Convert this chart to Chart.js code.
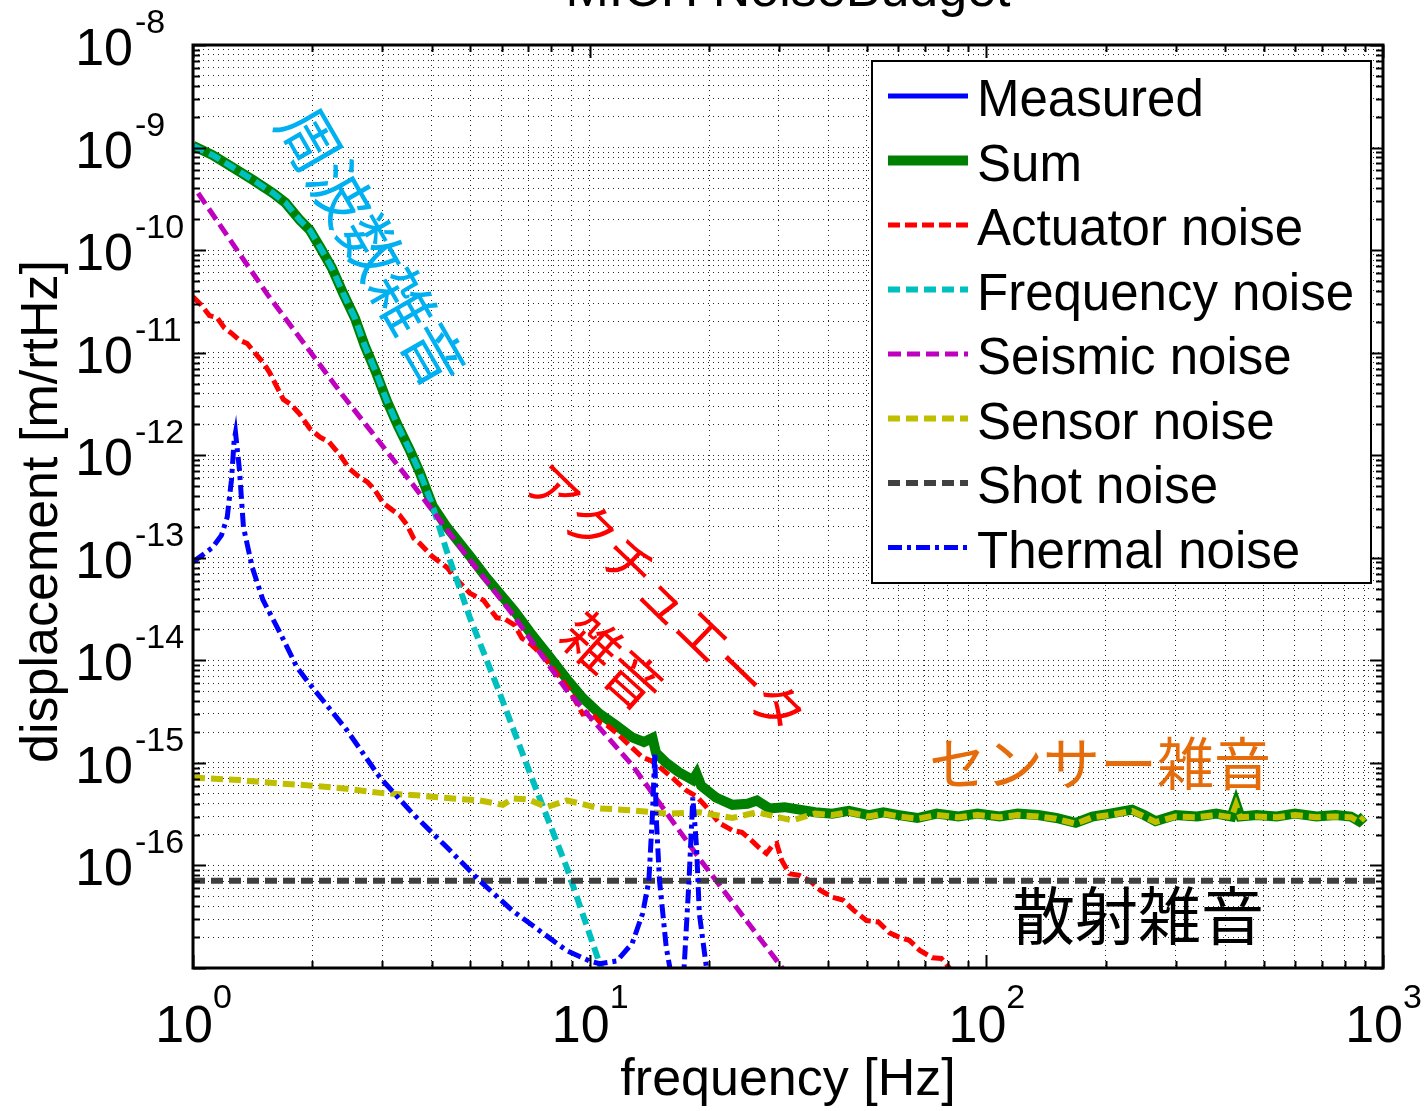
<!DOCTYPE html>
<html>
<head>
<meta charset="utf-8">
<script src="https://cdn.jsdelivr.net/npm/chart.js@4.4.1/dist/chart.umd.min.js"></script>
<style>
  html, body { margin: 0; padding: 0; background: #fff; }
  #wrap { position: relative; width: 1425px; height: 1111px; }
</style>
</head>
<body>
<div id="wrap"><canvas id="noiseChart"></canvas></div>
<script>
// tick labels (10^exp)
const xTickValues = [1, 10, 100, 1000];
const xTickExps = ['0', '1', '2', '3'];
const yTickValues = [1e-8, 1e-9, 1e-10, 1e-11, 1e-12, 1e-13, 1e-14, 1e-15, 1e-16];
const yTickExps = ['-8', '-9', '-10', '-11', '-12', '-13', '-14', '-15', '-16'];

// Measured (not visible in the plot)
const measuredF = [];
const measuredV = [];

// Sum
const sumF = [1, 1.12, 1.26, 1.42, 1.59, 1.71, 1.86, 1.97, 2.09, 2.24, 2.39, 2.56, 2.71, 2.89, 3.08, 3.28, 3.52, 3.73, 4.02, 4.36,
  4.99, 5.44, 5.93, 6.47, 7.06, 7.84, 8.75, 9.6, 10.6, 11.7, 12.8, 13.7, 14.4, 14.7, 15.6, 16.8, 18.2, 18.6, 19.1, 20.8,
  22.9, 25, 26.4, 28.4, 31, 33.8, 37, 40.9, 45, 50.6, 55, 60.2, 67, 75, 85, 95, 108, 120, 135, 150,
  168, 185, 205, 233, 250, 267, 300, 340, 380, 415, 426, 437, 480, 540, 600, 680, 760, 830, 870, 896];
const sumV = [1.04e-9, 8.45e-10, 6.4e-10, 4.8e-10, 3.6e-10, 2.9e-10, 1.96e-10, 1.57e-10, 1.07e-10, 6.7e-11, 3.8e-11, 2.17e-11, 1.17e-11, 6.5e-12, 3.4e-12, 1.96e-12, 1.12e-12, 6.8e-13, 3.2e-13, 2.0e-13,
  1.04e-13, 6.7e-14, 4.5e-14, 3.0e-14, 1.9e-14, 1.14e-14, 6.6e-15, 4.3e-15, 3.0e-15, 2.3e-15, 1.77e-15, 1.6e-15, 1.75e-15, 1.25e-15, 1.0e-15, 8.1e-16, 6.8e-16, 7.8e-16, 6.0e-16, 4.6e-16,
  3.9e-16, 4.0e-16, 4.3e-16, 3.6e-16, 3.7e-16, 3.5e-16, 3.3e-16, 3.2e-16, 3.4e-16, 3.1e-16, 3.3e-16, 3.1e-16, 2.9e-16, 3.2e-16, 3.0e-16, 3.2e-16, 3.0e-16, 3.2e-16, 3.1e-16, 2.9e-16,
  2.6e-16, 3.0e-16, 3.2e-16, 3.5e-16, 3.1e-16, 2.7e-16, 3.1e-16, 3.0e-16, 3.2e-16, 3.0e-16, 4.0e-16, 3.0e-16, 3.1e-16, 3.0e-16, 3.2e-16, 3.0e-16, 3.1e-16, 3.0e-16, 2.7e-16, 3.0e-16];

// Actuator noise
const actF = [1, 1.05, 1.1, 1.15, 1.2, 1.25, 1.31, 1.37, 1.43, 1.5, 1.56, 1.62, 1.69, 1.77, 1.86, 1.97, 2.09, 2.2, 2.35, 2.48,
  2.63, 2.75, 2.87, 3.02, 3.19, 3.32, 3.46, 3.6, 3.73, 4.0, 4.36, 4.65, 4.99, 5.4, 5.83, 6.1, 6.47, 6.75, 7.06, 7.6,
  8.25, 8.9, 9.6, 10.1, 10.6, 11.1, 11.7, 12.6, 13.6, 14.3, 15.0, 16.2, 17.5, 18.6, 19.7, 21.2, 22.9, 24.2, 25.4, 26.8,
  27.9, 29.0, 29.6, 30.5, 31.9, 33.8, 35.9, 38.2, 40.9, 43.5, 46.5, 49.9, 53.5, 57, 60.2, 64, 68, 73.1, 77, 80.7, 85];
const actV = [3.5e-11, 2.9e-11, 2.3e-11, 2.2e-11, 1.74e-11, 1.55e-11, 1.32e-11, 1.23e-11, 1.0e-11, 8.1e-12, 6.4e-12, 4.8e-12, 3.5e-12, 3.1e-12, 2.5e-12, 1.82e-12, 1.5e-12, 1.35e-12, 1.0e-12, 7.4e-13,
  6.1e-13, 5.5e-13, 4.6e-13, 3.4e-13, 2.9e-13, 2.6e-13, 2.1e-13, 1.55e-13, 1.38e-13, 1.04e-13, 8.1e-14, 6.0e-14, 4.5e-14, 3.85e-14, 2.6e-14, 2.55e-14, 2.2e-14, 1.64e-14, 1.47e-14, 1.12e-14,
  7.5e-15, 5.1e-15, 3.0e-15, 3.1e-15, 2.5e-15, 2.3e-15, 1.95e-15, 1.48e-15, 1.13e-15, 1.05e-15, 9.1e-16, 7.1e-16, 5.4e-16, 4.7e-16, 3.7e-16, 2.6e-16, 2.2e-16, 2.1e-16, 1.8e-16, 1.48e-16,
  1.31e-16, 1.6e-16, 1.64e-16, 1.12e-16, 8.3e-17, 8.0e-17, 7.1e-17, 5.7e-17, 4.9e-17, 4.6e-17, 3.6e-17, 2.9e-17, 2.8e-17, 2.2e-17, 2.0e-17, 1.86e-17, 1.48e-17, 1.26e-17, 1.24e-17, 1.0e-17, 7.6e-18];

// Frequency noise
const freqF = [1, 1.12, 1.26, 1.42, 1.59, 1.71, 1.86, 1.97, 2.09, 2.24, 2.39, 2.56, 2.71, 2.89, 3.08, 3.28, 3.52, 3.73, 4.02, 4.36,
  4.99, 5.93, 7.18, 8.75, 10.6, 11.9];
const freqV = [1.04e-9, 8.45e-10, 6.4e-10, 4.8e-10, 3.6e-10, 2.9e-10, 1.96e-10, 1.57e-10, 1.07e-10, 6.7e-11, 3.8e-11, 2.17e-11, 1.17e-11, 6.5e-12, 3.4e-12, 1.96e-12, 1.12e-12, 6.8e-13, 3.2e-13, 1.17e-13,
  2.6e-14, 4.8e-15, 6.8e-16, 9.6e-17, 1.1e-17, 3.1e-18];

// Seismic noise
const seisF = [1.03, 1.54, 2.39, 3.58, 4.99, 6.4, 8.75, 12.8, 18.9, 27.9, 30.6, 33.8];
const seisV = [3.6e-10, 3.7e-11, 3.8e-12, 5.2e-13, 9.5e-14, 2.8e-14, 5.1e-15, 9.5e-16, 1.17e-16, 1.6e-17, 1.0e-17, 6e-18];

// Sensor noise
const sensF = [1, 1.31, 1.66, 2.0, 2.44, 2.96, 3.73, 4.52, 5.28, 6.04, 6.4, 7.0, 7.8, 8.75, 9.5, 10.6, 12.8, 15.6, 18.9, 22.9,
  26.4, 32.4, 37, 40.9, 45, 50.6, 55, 60.2, 67, 75, 85, 95, 108, 120, 135, 150, 168, 185, 205, 233,
  250, 267, 300, 340, 380, 415, 426, 437, 480, 540, 600, 680, 760, 830, 870, 896];
const sensV = [7.2e-16, 6.8e-16, 6.3e-16, 6.0e-16, 5.6e-16, 5.1e-16, 4.8e-16, 4.5e-16, 4.3e-16, 3.9e-16, 4.5e-16, 4.4e-16, 3.7e-16, 4.3e-16, 4.0e-16, 3.6e-16, 3.45e-16, 3.2e-16, 3.3e-16, 2.9e-16,
  3.3e-16, 2.75e-16, 3.2e-16, 3.1e-16, 3.3e-16, 3.0e-16, 3.2e-16, 3.0e-16, 2.85e-16, 3.1e-16, 2.95e-16, 3.1e-16, 2.95e-16, 3.1e-16, 3.0e-16, 2.85e-16, 2.55e-16, 2.95e-16, 3.1e-16, 3.4e-16,
  3.0e-16, 2.65e-16, 3.0e-16, 2.95e-16, 3.1e-16, 2.95e-16, 3.9e-16, 2.95e-16, 3.0e-16, 2.95e-16, 3.1e-16, 2.95e-16, 3.0e-16, 2.95e-16, 2.65e-16, 2.95e-16];

// Shot noise
const shotF = [1, 1000];
const shotV = [7.1e-17, 7.1e-17];

// Thermal noise
const thermF = [1, 1.12, 1.18, 1.22, 1.25, 1.27, 1.28, 1.31, 1.34, 1.41, 1.5, 1.66, 1.83, 1.94, 2.44, 2.96, 3.58, 4.36, 5.28, 6.4,
  7.49, 8.75, 10.0, 10.6, 11.7, 12.8, 13.6, 14.1, 14.4, 14.6, 14.7, 15.0, 15.6, 16.1, 16.8, 17.3, 17.8, 18.2, 18.6, 18.9,
  19.7, 20.6];
const thermV = [9.1e-14, 1.26e-13, 1.66e-13, 2.5e-13, 5.7e-13, 1.4e-12, 1.66e-12, 7.1e-13, 2.0e-13, 8.1e-14, 3.9e-14, 1.83e-14, 8.5e-15, 6.3e-15, 2.1e-15, 7.2e-16, 3.2e-16, 1.51e-16, 7.1e-17, 3.6e-17,
  2.3e-17, 1.48e-17, 1.17e-17, 1.1e-17, 1.17e-17, 1.74e-17, 3.4e-17, 7.1e-17, 3.2e-16, 1.26e-15, 3.2e-16, 7.1e-17, 1.58e-17, 8e-18, 4.8e-18, 1.0e-17, 7.1e-17, 4.6e-16, 1.5e-16, 3.4e-17,
  1.0e-17, 4e-18];

const FONT = '"Liberation Sans", Arial, Helvetica, sans-serif';
const CJK = '"Noto Sans CJK JP", "Noto Sans CJK SC", sans-serif';

function pts(fs, vs) {
  return fs.map((f, i) => ({ x: f, y: vs[i] }));
}

function decadeTicks(lo, hi) {
  const out = [];
  for (let e = lo; e < hi; e++) {
    for (let m = 1; m <= 9; m++) out.push(Number((m * Math.pow(10, e)).toPrecision(3)));
  }
  out.push(Math.pow(10, hi));
  return out;
}

function isMajor(v) {
  const l = Math.log10(v);
  return Math.abs(l - Math.round(l)) < 1e-6;
}

const series = [
  { label: 'Measured', f: measuredF, v: measuredV, color: '#0000ff', width: 5, dash: [] },
  { label: 'Sum', f: sumF, v: sumV, color: '#008000', width: 10, dash: [] },
  { label: 'Actuator noise', f: actF, v: actV, color: '#ff0000', width: 5, dash: [12, 5] },
  { label: 'Frequency noise', f: freqF, v: freqV, color: '#00bfbf', width: 6, dash: [12, 6] },
  { label: 'Seismic noise', f: seisF, v: seisV, color: '#bf00bf', width: 5, dash: [13, 6] },
  { label: 'Sensor noise', f: sensF, v: sensV, color: '#bfbf00', width: 6, dash: [12, 6] },
  { label: 'Shot noise', f: shotF, v: shotV, color: '#404040', width: 6, dash: [12, 6] },
  { label: 'Thermal noise', f: thermF, v: thermV, color: '#0000ff', width: 5, dash: [14, 5, 4, 5] }
];

const overlay = {
  id: 'overlay',
  afterDatasetsDraw(chart) {
    const { ctx, chartArea: a, scales: { x, y } } = chart;
    ctx.save();

    // inward ticks on all four sides
    ctx.strokeStyle = '#000';
    ctx.lineWidth = 2;
    ctx.beginPath();
    x.ticks.forEach(t => {
      const px = Math.round(x.getPixelForValue(t.value)) + 0.5;
      const len = isMajor(t.value) ? 13 : 7;
      ctx.moveTo(px, a.bottom); ctx.lineTo(px, a.bottom - len);
      ctx.moveTo(px, a.top); ctx.lineTo(px, a.top + len);
    });
    y.ticks.forEach(t => {
      const py = Math.round(y.getPixelForValue(t.value)) + 0.5;
      const len = isMajor(t.value) ? 13 : 7;
      ctx.moveTo(a.left, py); ctx.lineTo(a.left + len, py);
      ctx.moveTo(a.right, py); ctx.lineTo(a.right - len, py);
    });
    ctx.stroke();

    // axes box
    ctx.lineWidth = 3;
    ctx.strokeRect(a.left, a.top, a.right - a.left, a.bottom - a.top);

    // tick labels
    ctx.fillStyle = '#000';
    xTickValues.forEach((v, i) => {
      const px = x.getPixelForValue(v);
      ctx.font = '52px ' + FONT;
      ctx.textAlign = 'right';
      ctx.textBaseline = 'alphabetic';
      ctx.fillText('10', px + 20, 1042);
      ctx.font = '34px ' + FONT;
      ctx.textAlign = 'left';
      ctx.fillText(xTickExps[i], px + 20, 1008);
    });
    yTickValues.forEach((v, i) => {
      const py = y.getPixelForValue(v);
      ctx.font = '52px ' + FONT;
      ctx.textAlign = 'right';
      ctx.textBaseline = 'alphabetic';
      ctx.fillText('10', 133, py + 20);
      ctx.font = '34px ' + FONT;
      ctx.textAlign = 'left';
      ctx.fillText(yTickExps[i], 135, py - 12);
    });

    // axis titles and chart title
    ctx.font = '52px ' + FONT;
    ctx.textAlign = 'center';
    ctx.fillText('frequency [Hz]', (a.left + a.right) / 2, 1095);
    ctx.fillText('MICH NoiseBudget', (a.left + a.right) / 2, 6);
    ctx.save();
    ctx.translate(57, (a.top + a.bottom) / 2 + 5);
    ctx.rotate(-Math.PI / 2);
    ctx.fillText('displacement [m/rtHz]', 0, 0);
    ctx.restore();

    // legend
    const box = { left: 872, top: 61, right: 1371, bottom: 583 };
    ctx.fillStyle = '#fff';
    ctx.fillRect(box.left, box.top, box.right - box.left, box.bottom - box.top);
    ctx.strokeStyle = '#000';
    ctx.lineWidth = 2;
    ctx.strokeRect(box.left, box.top, box.right - box.left, box.bottom - box.top);
    ctx.font = '51px ' + FONT;
    ctx.textAlign = 'left';
    chart.data.datasets.forEach((ds, i) => {
      const ry = 96 + i * 64.5;
      ctx.save();
      ctx.strokeStyle = ds.borderColor;
      ctx.lineWidth = ds.label === 'Sum' ? 10 : ds.borderWidth;
      ctx.setLineDash(ds.borderDash);
      ctx.beginPath();
      ctx.moveTo(888, ry);
      ctx.lineTo(968, ry);
      ctx.stroke();
      ctx.restore();
      ctx.fillStyle = '#000';
      ctx.fillText(ds.label, 977, ry + 20);
    });

    // Japanese annotations
    const note = (text, cx, cy, deg, size, color) => {
      ctx.save();
      ctx.translate(cx, cy);
      ctx.rotate(deg * Math.PI / 180);
      ctx.font = size + 'px ' + CJK;
      ctx.fillStyle = color;
      ctx.textAlign = 'center';
      ctx.textBaseline = 'middle';
      ctx.fillText(text, 0, 0);
      ctx.restore();
    };
    note('周波数雑音', 372, 247, 60, 62, '#00b0f0');
    note('アクチュエータ', 666, 599, 44, 52, '#ff0000');
    note('雑音', 613, 661, 42, 56, '#ff0000');
    ctx.font = '57px ' + CJK;
    ctx.textAlign = 'left';
    ctx.textBaseline = 'middle';
    ctx.fillStyle = '#e46c0a';
    ctx.fillText('センサー雑音', 929, 763);
    ctx.font = '63px ' + CJK;
    ctx.fillStyle = '#000';
    ctx.fillText('散射雑音', 1012, 915);

    ctx.restore();
  }
};

const ctx = document.getElementById('noiseChart').getContext('2d');

new Chart(ctx, {
  type: 'line',
  data: {
    datasets: series.map((s, i) => ({
      label: s.label,
      data: pts(s.f, s.v),
      borderColor: s.color,
      backgroundColor: s.color,
      borderWidth: s.width,
      borderDash: s.dash,
      pointRadius: 0,
      tension: 0,
      fill: false,
      order: 10 - i
    }))
  },
  options: {
    responsive: true,
    maintainAspectRatio: false,
    animation: false,
    events: [],
    layout: { padding: { top: 45, right: 42, left: 0, bottom: 0 } },
    plugins: {
      legend: { display: false },
      tooltip: { enabled: false }
    },
    scales: {
      x: {
        type: 'logarithmic',
        min: 1,
        max: 1000,
        afterBuildTicks: scale => { scale.ticks = decadeTicks(0, 3).map(v => ({ value: v })); },
        afterFit: scale => { scale.height = 143; },
        ticks: { display: false },
        border: { display: false, dash: [1, 4] },
        grid: { color: 'rgba(0,0,0,0.85)', lineWidth: 1, drawTicks: false }
      },
      y: {
        type: 'logarithmic',
        min: 1e-17,
        max: 1e-8,
        afterBuildTicks: scale => { scale.ticks = decadeTicks(-17, -8).map(v => ({ value: v })); },
        afterFit: scale => { scale.width = 193; },
        ticks: { display: false },
        border: { display: false, dash: [1, 4] },
        grid: { color: 'rgba(0,0,0,0.85)', lineWidth: 1, drawTicks: false }
      }
    }
  },
  plugins: [overlay]
});
</script>
</body>
</html>
